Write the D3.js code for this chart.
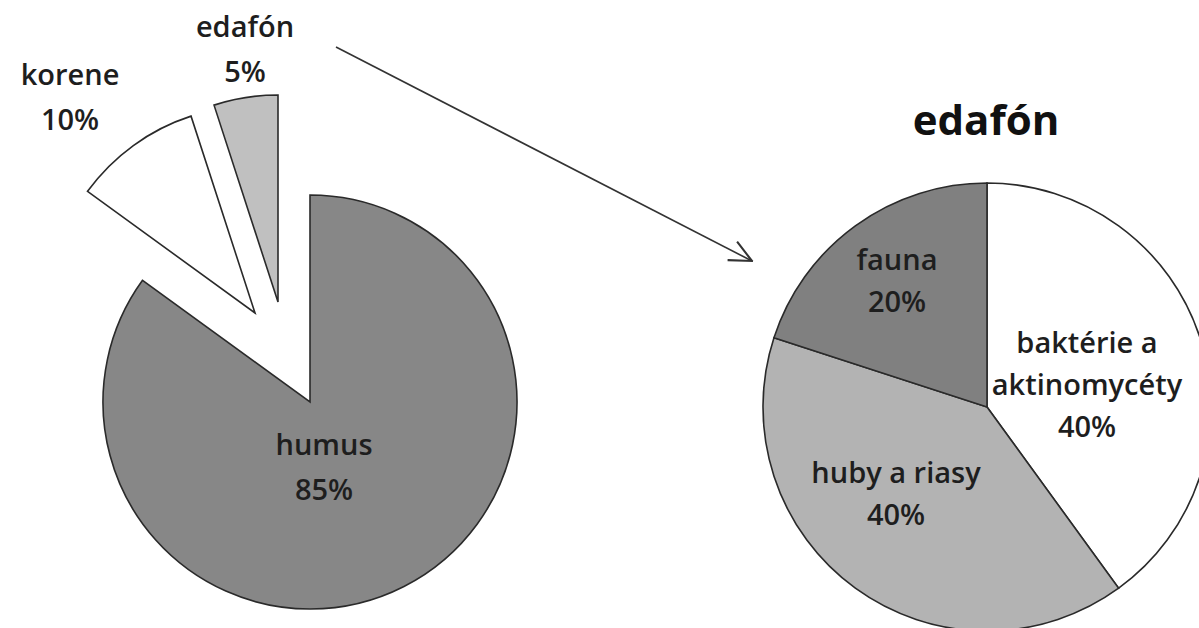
<!DOCTYPE html>
<html><head><meta charset="utf-8">
<script src="https://cdn.jsdelivr.net/npm/d3@7"></script>
<style>body{margin:0;background:#fff}svg{display:block}</style>
</head><body>
<svg id="c" width="1199" height="628"></svg>
<script>
// ---- data ----
const leftLabels = ["humus", "korene", "edafón"];
const leftValues = [85, 10, 5];
const rightTitle = "edafón";
const rightLabels = [["baktérie a", "aktinomycéty"], ["huby a riasy"], ["fauna"]];
const rightValues = [40, 40, 20];

// ---- style / layout ----
const svg = d3.select("#c");
const font = "'Open Sans', sans-serif";
const txtColor = "#1e1e1e";
const leftColors = ["#878787", "#ffffff", "#c0c0c0"];
const rightColors = ["#ffffff", "#b3b3b3", "#808080"];
const explodeOff = [[0, 0], [-55, -89], [-32, -100]];
const L = {cx: 310, cy: 402, r: 207};
const R = {cx: 987, cy: 407, r: 224};
const leftLabelOff = [[14, 53], [-240, -317], [-65, -365]];
const rightLabelOff = [[100, -54], [-91, 76], [-90, -137]];
const fs = 29;

const pie = d3.pie().sort(null).startAngle(0).endAngle(2 * Math.PI);

// left pie
const la = pie(leftValues);
const arcL = d3.arc().innerRadius(0).outerRadius(L.r);
const gL = svg.append("g").attr("transform", `translate(${L.cx},${L.cy})`);
gL.selectAll("path").data(la).join("path")
  .attr("d", arcL)
  .attr("transform", (d, i) => `translate(${explodeOff[i][0]},${explodeOff[i][1]})`)
  .attr("fill", (d, i) => leftColors[i])
  .attr("stroke", "#2a2a2a").attr("stroke-width", 1.6).attr("stroke-linejoin", "miter");

la.forEach((d, i) => {
  const lines = [leftLabels[i], d.data + "%"];
  const t = gL.append("text")
    .attr("text-anchor", "middle")
    .attr("font-family", font).attr("font-weight", 600).attr("font-size", fs)
    .attr("fill", txtColor);
  lines.forEach((s, k) => t.append("tspan")
    .attr("x", leftLabelOff[i][0])
    .attr("y", leftLabelOff[i][1] + k * 45)
    .text(s));
});

// right pie
const ra = pie(rightValues);
const arcR = d3.arc().innerRadius(0).outerRadius(R.r);
const gR = svg.append("g").attr("transform", `translate(${R.cx},${R.cy})`);
gR.selectAll("path").data(ra).join("path")
  .attr("d", arcR)
  .attr("fill", (d, i) => rightColors[i])
  .attr("stroke", "#2a2a2a").attr("stroke-width", 1.6);

ra.forEach((d, i) => {
  const lines = rightLabels[i].concat([d.data + "%"]);
  const t = gR.append("text")
    .attr("text-anchor", "middle")
    .attr("font-family", font).attr("font-weight", 600).attr("font-size", fs)
    .attr("fill", txtColor);
  lines.forEach((s, k) => t.append("tspan")
    .attr("x", rightLabelOff[i][0])
    .attr("y", rightLabelOff[i][1] + k * 42)
    .text(s));
});

// title
svg.append("text")
  .attr("x", R.cx - 1).attr("y", 135)
  .attr("text-anchor", "middle")
  .attr("font-family", font).attr("font-weight", 700).attr("font-size", 42)
  .attr("fill", "#111").text(rightTitle);

// arrow
svg.append("defs").append("marker")
  .attr("id", "ah").attr("viewBox", "0 0 20 20").attr("refX", 19).attr("refY", 10)
  .attr("markerWidth", 26).attr("markerHeight", 26).attr("markerUnits", "userSpaceOnUse")
  .attr("orient", "auto")
  .append("path").attr("d", "M2,2 L19,10 L2,18")
  .attr("fill", "none").attr("stroke", "#333").attr("stroke-width", 1.6);
svg.append("line")
  .attr("x1", 336).attr("y1", 47).attr("x2", 752).attr("y2", 261)
  .attr("stroke", "#333").attr("stroke-width", 1.6)
  .attr("marker-end", "url(#ah)");
</script>
</body></html>
